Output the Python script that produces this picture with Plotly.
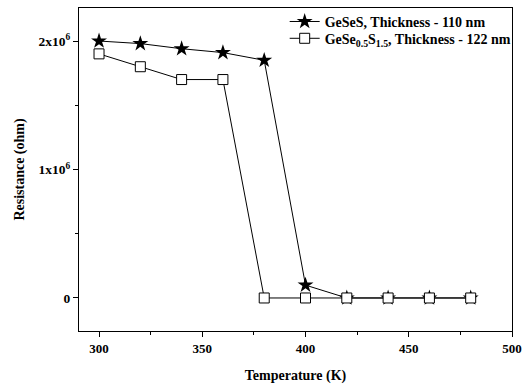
import plotly.graph_objects as go

temps = [300, 320, 340, 360, 380, 400, 420, 440, 460, 480]
geses = [2.0e6, 1.98e6, 1.94e6, 1.91e6, 1.85e6, 0.1e6, 0, 0, 0, 0]
gesese = [1.9e6, 1.8e6, 1.7e6, 1.7e6, 0, 0, 0, 0, 0, 0]

ytickvals = [0, 1e6, 2e6]
yticktext = ["0", "1x10<sup>6</sup>", "2x10<sup>6</sup>"]
xtickvals = [300, 350, 400, 450, 500]

font = "Liberation Serif"
legfont = dict(family=font, size=14, weight="bold", color="black")

fig = go.Figure()
fig.add_trace(go.Scatter(
    x=temps, y=geses, mode="lines+markers",
    name="GeSeS, Thickness - 110 nm",
    line=dict(color="black", width=1),
    marker=dict(symbol="star", size=12, color="black"),
    legend="legend",
))
fig.add_trace(go.Scatter(
    x=temps, y=gesese, mode="lines+markers",
    name="GeSe<sub>0.5</sub>S<sub>1.5</sub>, Thickness - 122 nm",
    line=dict(color="black", width=1),
    marker=dict(symbol="square", size=10, color="white",
                line=dict(color="black", width=1)),
    legend="legend2",
))

fig.update_layout(
    width=526, height=387,
    margin=dict(l=79, r=14, t=8, b=56, autoexpand=False),
    paper_bgcolor="white", plot_bgcolor="white",
    font=dict(family=font, color="black", size=13),
    legend=dict(x=0.475, xanchor="left", y=0.957, yanchor="middle",
                bgcolor="rgba(0,0,0,0)", font=legfont, itemwidth=30),
    legend2=dict(x=0.475, xanchor="left", y=0.905, yanchor="middle",
                 bgcolor="rgba(0,0,0,0)", font=legfont, itemwidth=30),
    showlegend=True,
)
fig.update_xaxes(
    range=[290.3, 500], tickvals=xtickvals, automargin=False,
    ticks="outside", ticklen=5, tickwidth=1, tickcolor="black",
    showline=True, linecolor="black", linewidth=1, mirror=True,
    showgrid=False, zeroline=False,
    minor=dict(ticks="outside", tickvals=[325, 375, 425, 475], ticklen=3, tickcolor="black"),
    tickfont=dict(family=font, size=13, weight="bold"),
    title=dict(text="Temperature (K)", font=dict(family=font, size=14, weight="bold"), standoff=15),
)
fig.update_yaxes(
    range=[-0.257e6, 2.257e6], tickvals=ytickvals, ticktext=yticktext, automargin=False,
    ticks="outside", ticklen=5, tickwidth=1, tickcolor="black",
    showline=True, linecolor="black", linewidth=1, mirror=True,
    showgrid=False, zeroline=False,
    minor=dict(ticks="outside", tickvals=[0.5e6, 1.5e6], ticklen=3, tickcolor="black"),
    tickfont=dict(family=font, size=13.5, weight="bold"),
    title=dict(text="Resistance (ohm)", font=dict(family=font, size=14, weight="bold"), standoff=10),
)

fig.write_html(
    "out.html",
    config={"displayModeBar": False},
    post_script="document.body.style.margin='0';document.body.style.overflow='hidden';",
)
